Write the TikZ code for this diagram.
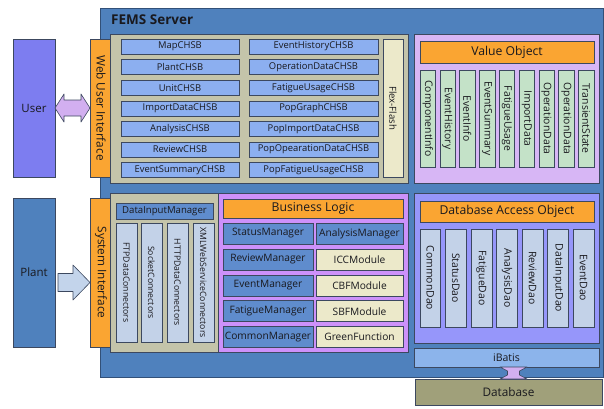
\documentclass[tikz,border=0pt]{standalone}
\usepackage{fontspec}
\setmainfont{Open Sans}
\usetikzlibrary{calc}
\definecolor{serverblue}{RGB}{79,129,189}
\definecolor{serveredge}{RGB}{50,80,120}
\definecolor{userblue}{RGB}{125,125,240}
\definecolor{ifaceorange}{RGB}{250,165,50}
\definecolor{khaki}{RGB}{196,196,170}
\definecolor{chsbblue}{RGB}{140,175,240}
\definecolor{beige}{RGB}{236,233,202}
\definecolor{lilac}{RGB}{215,182,245}
\definecolor{mint}{RGB}{196,226,200}
\definecolor{violet}{RGB}{205,145,250}
\definecolor{mgrblue}{RGB}{95,140,205}
\definecolor{paleblue}{RGB}{195,210,232}
\definecolor{periwinkle}{RGB}{150,150,250}
\definecolor{batisblue}{RGB}{140,180,235}
\definecolor{olive}{RGB}{160,160,122}
\definecolor{arrowlilac}{RGB}{210,175,240}
\definecolor{arrowblue}{RGB}{195,212,235}
\definecolor{edgegray}{RGB}{60,72,95}
\definecolor{textdark}{RGB}{25,25,30}

\begin{document}
\begin{tikzpicture}[x=1pt,y=-1pt]
		\tikzset{box/.style = {shape=rectangle,draw=edgegray,line width=0.6pt,inner sep=0pt,outer sep=0pt,text=textdark}}
		\tikzset{panel/.style = {box,line width=0.8pt}}
		\tikzset{header/.style = {box,fill=ifaceorange,minimum width=174,font=\fontsize{12.2}{13}\selectfont}}
		\tikzset{chsb/.style = {box,fill=chsbblue,minimum height=15,font=\fontsize{9.4}{10}\selectfont}}
		\tikzset{vbox/.style = {box,rotate=-90}}
		\tikzset{vo/.style = {vbox,fill=mint,minimum width=97,minimum height=15.5,font=\fontsize{10.4}{11}\selectfont}}
		\tikzset{conn/.style = {vbox,fill=paleblue,minimum width=119,minimum height=21,font=\fontsize{8.7}{9}\selectfont}}
		\tikzset{dao/.style = {vbox,fill=paleblue,minimum width=98,minimum height=20.7,font=\fontsize{10.4}{11}\selectfont}}
		\tikzset{mgr/.style = {box,fill=mgrblue,minimum width=90,minimum height=21,font=\fontsize{10.2}{11}\selectfont}}
		\tikzset{module/.style = {box,fill=beige,minimum width=87,minimum height=21,font=\fontsize{10.2}{11}\selectfont}}
		\tikzset{actor/.style = {box,minimum width=42,font=\fontsize{11.5}{12}\selectfont}}
		\tikzset{iface/.style = {vbox,fill=ifaceorange,minimum height=22,font=\fontsize{11.8}{12}\selectfont}}
		\tikzset{bigarrow/.style = {draw=edgegray,line width=0.6pt,line join=round}}
		\useasboundingbox (0,0) rectangle (604,408);
		%server frame
		\node[panel,draw=serveredge,fill=serverblue,minimum width=503,minimum height=369] (server) at (351.5,192.5) {};
		\node[anchor=west,inner sep=0pt,text=textdark,font=\fontsize{13.5}{15}\selectfont\bfseries] (title) at (111,20) {FEMS\ Server};
		%outside
		\node[actor,fill=userblue,minimum height=138] (user) at (34,108) {User};
		\node[actor,fill=serverblue,minimum height=149] (plant) at (34,272.5) {Plant};
		\node[iface,minimum width=138] (webui) at (101,108) {Web User Interface};
		\node[iface,minimum width=149] (sysif) at (101,272.5) {System Interface};
		%web part
		\node[panel,fill=khaki,minimum width=298,minimum height=149] (webpanel) at (259,108.5) {};
		\node[chsb,minimum width=118] (map) at (180,46.5) {MapCHSB};
		\node[chsb,minimum width=118] (plantchsb) at (180,67.1) {PlantCHSB};
		\node[chsb,minimum width=118] (unit) at (180,87.7) {UnitCHSB};
		\node[chsb,minimum width=118] (import) at (180,108.3) {ImportDataCHSB};
		\node[chsb,minimum width=118] (analysis) at (180,128.9) {AnalysisCHSB};
		\node[chsb,minimum width=118] (review) at (180,149.5) {ReviewCHSB};
		\node[chsb,minimum width=118] (evsum) at (180,170.1) {EventSummaryCHSB};
		\node[chsb,minimum width=129] (evhist) at (313.5,46.5) {EventHistoryCHSB};
		\node[chsb,minimum width=129] (opdata) at (313.5,67.1) {OperationDataCHSB};
		\node[chsb,minimum width=129] (fatigue) at (313.5,87.7) {FatigueUsageCHSB};
		\node[chsb,minimum width=129] (popgraph) at (313.5,108.3) {PopGraphCHSB};
		\node[chsb,minimum width=129] (popimport) at (313.5,128.9) {PopImportDataCHSB};
		\node[chsb,minimum width=129] (popop) at (313.5,149.5) {PopOpearationDataCHSB};
		\node[chsb,minimum width=129] (popfat) at (313.5,170.1) {PopFatigueUsageCHSB};
		\node[vbox,fill=beige,minimum width=138,minimum height=20,font=\fontsize{9.6}{10}\selectfont] (flex) at (393,108) {Flex-Flash};
		%value objects
		\node[panel,fill=lilac,minimum width=185,minimum height=149] (vopanel) at (506.5,108.5) {};
		\node[header,minimum height=22] (vohead) at (507,52) {Value Object};
		\node[vo] (vo1) at (427.75,118.5) {ComponentInfo};
		\node[vo] (vo2) at (447.55,118.5) {EventHistory};
		\node[vo] (vo3) at (467.35,118.5) {EventInfo};
		\node[vo] (vo4) at (487.15,118.5) {EventSummary};
		\node[vo] (vo5) at (506.95,118.5) {FatigueUsage};
		\node[vo] (vo6) at (526.75,118.5) {ImportData};
		\node[vo] (vo7) at (546.55,118.5) {OperationData};
		\node[vo] (vo8) at (566.35,118.5) {OperationData};
		\node[vo] (vo9) at (586.15,118.5) {TransientState};
		%data input
		\node[panel,fill=khaki,minimum width=108,minimum height=159] (inpanel) at (164,272.5) {};
		\node[box,fill=mgrblue,minimum width=97,minimum height=16,font=\fontsize{9.6}{10}\selectfont] (dim) at (164.5,211) {DataInputManager};
		\node[conn] (ftp) at (126.5,282.5) {FTPDataConnectors};
		\node[conn] (socket) at (151.5,282.5) {SocketConnectors};
		\node[conn] (http) at (177.5,282.5) {HTTPDataConnectors};
		\node[conn] (xml) at (203.5,282.5) {XMLWebServiceConnectors};
		%business logic
		\node[panel,fill=violet,minimum width=190,minimum height=159] (blpanel) at (313,272.5) {};
		\node[header,minimum width=180,minimum height=19] (blhead) at (313,208.5) {Business Logic};
		\node[mgr] (status) at (268,233.5) {StatusManager};
		\node[mgr] (reviewmgr) at (268,259.4) {ReviewManager};
		\node[mgr] (event) at (268,285.3) {EventManager};
		\node[mgr] (fatiguemgr) at (268,311.2) {FatigueManager};
		\node[mgr] (common) at (268,337.1) {CommonManager};
		\node[mgr,minimum width=87] (analysismgr) at (359.5,233.5) {AnalysisManager};
		\node[module] (icc) at (359.5,259.4) {ICCModule};
		\node[module] (cbf) at (359.5,285.3) {CBFModule};
		\node[module] (sbf) at (359.5,311.2) {SBFModule};
		\node[module] (green) at (359.5,337.1) {GreenFunction};
		%dao
		\node[panel,fill=periwinkle,minimum width=185,minimum height=150] (daopanel) at (506.5,268) {};
		\node[header,minimum height=21] (daohead) at (507,211.5) {Database Access Object};
		\node[dao] (dao1) at (430.35,278) {CommonDao};
		\node[dao] (dao2) at (455.9,278) {StatusDao};
		\node[dao] (dao3) at (481.45,278) {FatigueDao};
		\node[dao] (dao4) at (507,278) {AnalysisDao};
		\node[dao] (dao5) at (532.55,278) {ReviewDao};
		\node[dao] (dao6) at (558.1,278) {DataInputDao};
		\node[dao] (dao7) at (583.65,278) {EventDao};
		\node[box,fill=batisblue,minimum width=185,minimum height=19,font=\fontsize{10.5}{11}\selectfont] (ibatis) at (506.5,357.5) {iBatis};
		\node[box,fill=olive,minimum width=187,minimum height=26,font=\fontsize{11.8}{12}\selectfont] (database) at (508.5,392) {Database};
		%arrows
		\draw[bigarrow,fill=arrowlilac] (user.east) -- ++(9,-14) -- ++(0,6) -- ($(webui.south)+(-9,-8)$) -- ++(0,-6) -- (webui.south)
			-- ++(-9,14) -- ++(0,-6) -- ($(user.east)+(9,8)$) -- ++(0,6) -- cycle;
		\coordinate (ptail) at ($(plant.east)+(3,10)$);
		\coordinate (ptip) at ($(sysif.south)+(0,10)$);
		\draw[bigarrow,fill=arrowblue] ($(ptail)+(0,-9)$) -- ($(ptip)+(-17,-9)$) -- ($(ptip)+(-17,-17.5)$) -- (ptip)
			-- ($(ptip)+(-17,17.5)$) -- ($(ptip)+(-17,9)$) -- ($(ptail)+(0,9)$) -- cycle;
		\coordinate (dbtop) at ($(ibatis.south)+(7,0)$);
		\coordinate (dbbot) at ($(database.north)+(5,0)$);
		\draw[bigarrow,fill=arrowlilac] ($(dbtop)+(-13.5,0)$) -- ($(dbtop)+(13.5,0)$) -- ($(dbtop)+(6,4)$) -- ($(dbbot)+(6,-4)$)
			-- ($(dbbot)+(13.5,0)$) -- ($(dbbot)+(-13.5,0)$) -- ($(dbbot)+(-6,-4)$) -- ($(dbtop)+(-6,4)$) -- cycle;
\end{tikzpicture}
\end{document}
